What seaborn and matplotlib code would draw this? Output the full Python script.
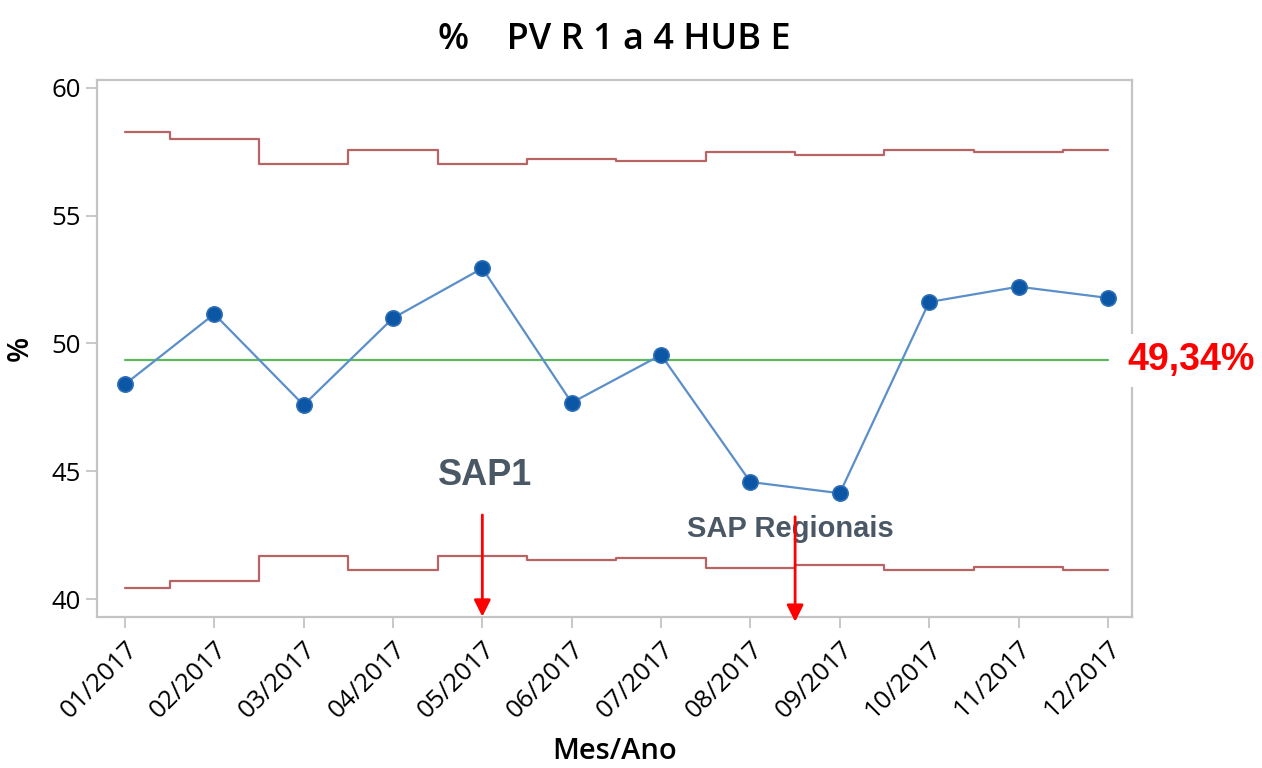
import matplotlib
matplotlib.use("Agg")
import matplotlib.pyplot as plt
import seaborn as sns
import pandas as pd

# monthly proportion (%), control limits
months = ["01/2017", "02/2017", "03/2017", "04/2017", "05/2017", "06/2017",
          "07/2017", "08/2017", "09/2017", "10/2017", "11/2017", "12/2017"]
pct = [48.40, 51.15, 47.59, 50.99, 52.94, 47.68, 49.55, 44.58, 44.14, 51.62, 52.22, 51.78]
ucl = [58.27, 57.99, 57.01, 57.55, 57.01, 57.20, 57.12, 57.47, 57.38, 57.56, 57.47, 57.56]
lcl = [40.43, 40.70, 41.67, 41.15, 41.67, 41.51, 41.59, 41.23, 41.32, 41.15, 41.24, 41.15]
center = 49.34
center_label = "49,34%"

events = ["SAP1", "SAP Regionais"]
event_pos = [4.0, 7.5]

df = pd.DataFrame({"idx": range(len(months)), "pct": pct, "ucl": ucl, "lcl": lcl})

sns.set_style("white")
plt.rcParams["font.family"] = ["Open Sans", "DejaVu Sans"]
plt.rcParams["text.color"] = "black"
plt.rcParams["axes.labelcolor"] = "black"
plt.rcParams["xtick.color"] = "black"
plt.rcParams["ytick.color"] = "black"

fig = plt.figure(figsize=(12.62, 7.68), dpi=100)
ax = fig.add_axes([0.077, 0.197, 0.82, 0.699])

limit_color = "#b86464"
sns.lineplot(data=df, x="idx", y="ucl", ax=ax, color=limit_color, lw=1.6, drawstyle="steps-mid")
sns.lineplot(data=df, x="idx", y="lcl", ax=ax, color=limit_color, lw=1.6, drawstyle="steps-mid")
ax.plot([0, len(months) - 1], [center, center], color="#5cb85c", lw=1.6)
sns.lineplot(data=df, x="idx", y="pct", ax=ax, color="#5b8fc9", lw=1.6,
             marker="o", markersize=11, markerfacecolor="#0b57a6",
             markeredgecolor="#2f6fb8", markeredgewidth=1.2)

ax.set_xlim(-0.31, 11.27)
ax.set_ylim(39.31, 60.31)
ax.set_xticks(range(len(months)))
ax.set_xticklabels(months, rotation=45, ha="right", va="top", rotation_mode="anchor")
ax.set_yticks([40, 45, 50, 55, 60])

for s in ax.spines.values():
    s.set_color("#c4c4c4")
    s.set_linewidth(1.6)
ax.tick_params(axis="both", which="major", bottom=True, left=True, direction="out",
               length=8, width=1.3, color="#c4c4c4", labelcolor="black",
               labelsize=18.5, pad=4)
ax.tick_params(axis="x", pad=6)
for lab in ax.get_xticklabels() + ax.get_yticklabels():
    lab.set_fontweight("medium")

ax.set_xlabel("Mes/Ano", fontsize=21, fontweight="semibold", labelpad=10)
ax.set_ylabel("%", fontsize=21, fontweight="semibold", labelpad=12)
ax.set_title("%    PV R 1 a 4 HUB E", fontsize=26, fontweight="semibold", pad=22)

# center line value
ax.text(11.22, center, center_label, color="red", fontsize=27, fontweight="bold",
        family="Liberation Sans", ha="left", va="center", clip_on=False,
        bbox=dict(facecolor="white", edgecolor="none", pad=6))

# event annotations
ax.text(event_pos[0] + 0.03, 44.83, events[0], color="#4a5866", fontsize=26,
        fontweight="bold", family="Liberation Sans", ha="center", va="center")
ax.text(event_pos[1] - 0.05, 42.76, events[1], color="#4a5866", fontsize=21,
        fontweight="bold", family="Liberation Sans", ha="center", va="center")
arrow = dict(arrowstyle="-|>,head_length=1.0,head_width=0.5", color="red", lw=2,
             shrinkA=0, shrinkB=0)
ax.annotate("", xy=(event_pos[0], 39.31), xytext=(event_pos[0], 43.29),
            arrowprops=arrow, annotation_clip=False)
ax.annotate("", xy=(event_pos[1], 39.11), xytext=(event_pos[1], 43.22),
            arrowprops=arrow, annotation_clip=False)

fig.savefig("out.png", dpi=100)
